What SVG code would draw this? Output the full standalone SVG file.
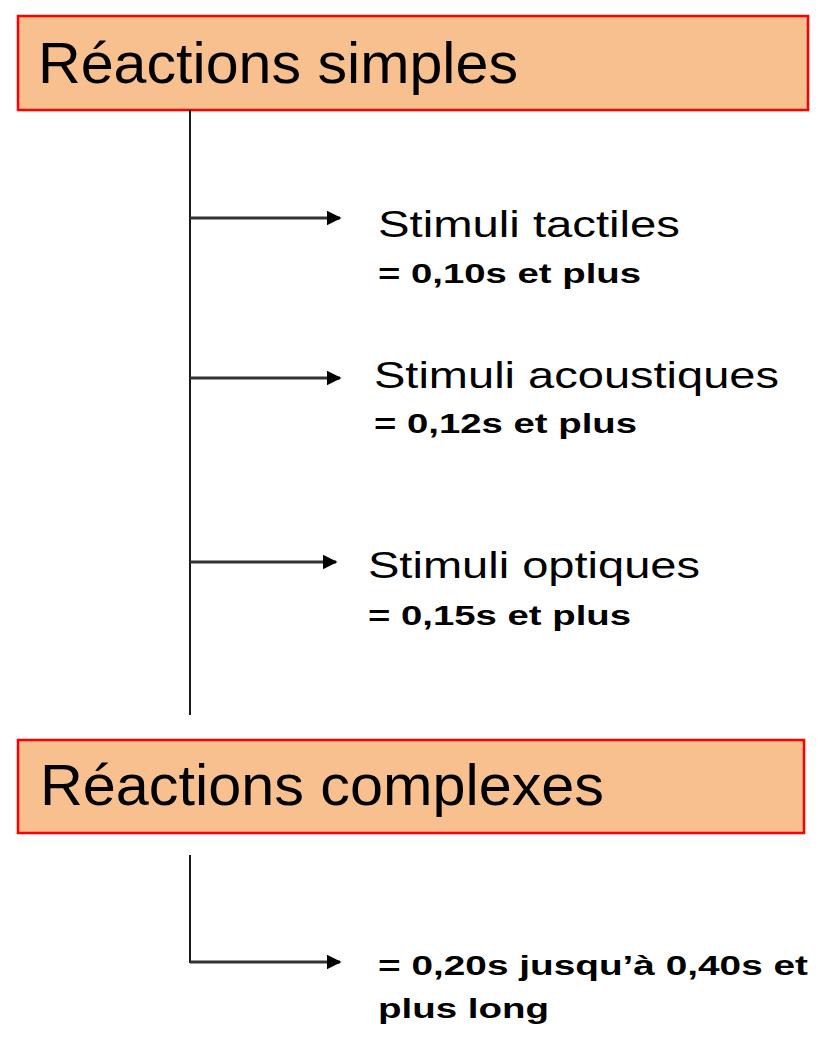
<svg xmlns="http://www.w3.org/2000/svg" width="830" height="1050" viewBox="0 0 830 1050">
<style>
.box{fill:#F9C08F;stroke:#FF0000;stroke-width:2.5}
.t{font-family:"Liberation Sans",Arial,sans-serif;fill:#000}
.h{font-size:58px}
.s{font-size:37px}
.b{font-size:27px;font-weight:bold}
.ln{stroke:#000;stroke-width:1.8;fill:none}
.ar{stroke:#333;stroke-width:3;fill:none;marker-end:url(#ah)}
</style>
<defs><marker id="ah" markerWidth="5" markerHeight="5" refX="4.5" refY="2.5" orient="auto" markerUnits="strokeWidth"><path d="M0,0 L5,2.5 L0,5 Z" fill="#000"/></marker></defs>
<g id="simples"><rect class="box" x="18" y="16" width="790" height="94"/><text class="t h" x="38" y="83" textLength="480" lengthAdjust="spacingAndGlyphs">Réactions simples</text></g>
<g id="tactiles"><text class="t s" x="378" y="237" textLength="302" lengthAdjust="spacingAndGlyphs">Stimuli tactiles</text><text class="t b" x="378" y="283" textLength="263" lengthAdjust="spacingAndGlyphs">= 0,10s et plus</text></g>
<g id="acoustiques"><text class="t s" x="374" y="388" textLength="405" lengthAdjust="spacingAndGlyphs">Stimuli acoustiques</text><text class="t b" x="374" y="433" textLength="263" lengthAdjust="spacingAndGlyphs">= 0,12s et plus</text></g>
<g id="optiques"><text class="t s" x="368" y="578" textLength="332" lengthAdjust="spacingAndGlyphs">Stimuli optiques</text><text class="t b" x="368" y="625" textLength="263" lengthAdjust="spacingAndGlyphs">= 0,15s et plus</text></g>
<g id="complexes"><rect class="box" x="18" y="740" width="786" height="93"/><text class="t h" x="40" y="805" textLength="564" lengthAdjust="spacingAndGlyphs">Réactions complexes</text></g>
<g id="complexe-val"><text class="t b" x="378" y="975" textLength="430" lengthAdjust="spacingAndGlyphs">= 0,20s jusqu’à 0,40s et</text><text class="t b" x="378" y="1018" textLength="171" lengthAdjust="spacingAndGlyphs">plus long</text></g>
<g id="connectors">
<line class="ln" x1="190" y1="110" x2="190" y2="715"/>
<line class="ar" x1="190" y1="218" x2="340" y2="218"/>
<line class="ar" x1="190" y1="378" x2="340" y2="378"/>
<line class="ar" x1="190" y1="562" x2="336" y2="562"/>
<polyline class="ln" points="190,855 190,962 300,962"/>
<line class="ar" x1="190" y1="962" x2="340" y2="962"/>
</g>
</svg>
